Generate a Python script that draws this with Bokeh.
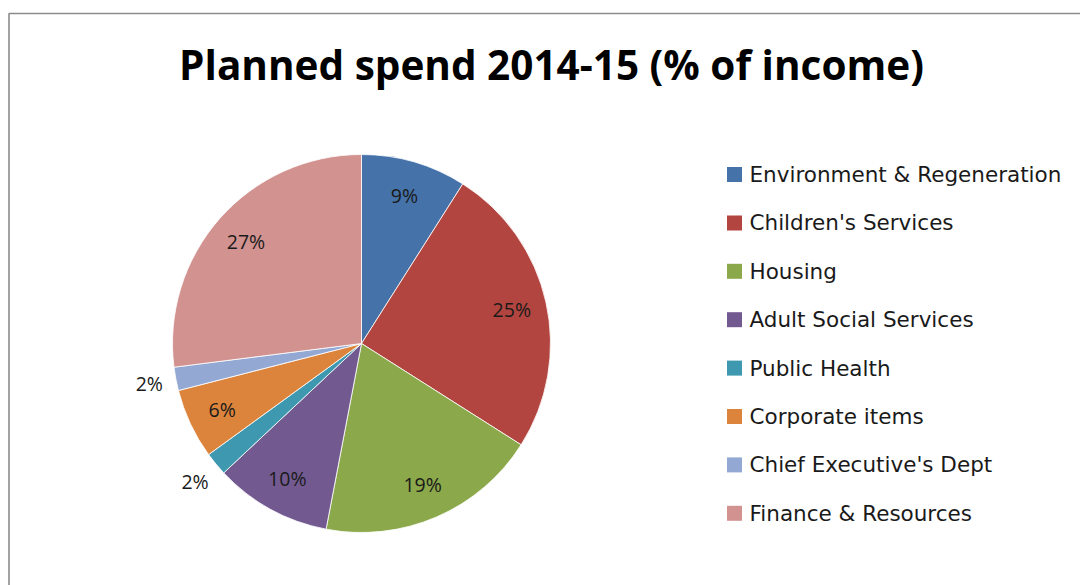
import math

from bokeh.core.properties import value
from bokeh.embed import file_html
from bokeh.models import ColumnDataSource, Range1d
from bokeh.plotting import figure
from bokeh.resources import INLINE

# Planned spend by department, share of income (%)
categories = [
    "Environment & Regeneration",
    "Children's Services",
    "Housing",
    "Adult Social Services",
    "Public Health",
    "Corporate items",
    "Chief Executive's Dept",
    "Finance & Resources",
]
shares = [9, 25, 19, 10, 2, 6, 2, 27]
colors = ["#4572a9", "#b2453f", "#8ba84a", "#725a91", "#3d98b0",
          "#dd843c", "#93a9d4", "#d19290"]
title_text = "Planned spend 2014-15 (% of income)"

W, H = 1080, 585
FONT = "Open Sans"
LEGEND_FONT = "DejaVu Sans"

p = figure(width=W, height=H, x_range=Range1d(0, W), y_range=Range1d(0, H),
           output_backend="svg", toolbar_location=None, min_border=0)
p.axis.visible = False
p.grid.visible = False
p.outline_line_color = None
p.background_fill_color = "white"
p.border_fill_color = "white"

# chart area frame (left and top edges visible)
p.quad(left=[8.5], right=[W + 20], top=[H - 13], bottom=[-20],
       fill_color=None, line_color="#8c8c8c", line_width=1.6)

# title
p.text(x=[551], y=[H - 64], text=[title_text], text_align="center",
       text_baseline="middle", text_font=value(FONT), text_font_style="bold",
       text_font_size="40.5px", text_color="#000000")

# pie
cx, cy, R = 361, H - 343, 189
total = float(sum(shares))
starts, ends, mids = [], [], []
acc = 0.0
for s in shares:
    a0 = math.pi / 2 - 2 * math.pi * acc / total
    acc += s
    a1 = math.pi / 2 - 2 * math.pi * acc / total
    starts.append(a0)
    ends.append(a1)
    mids.append((a0 + a1) / 2)

pie = ColumnDataSource(dict(start=starts, end=ends, color=colors, cat=categories))
p.wedge(x=cx, y=cy, radius=R, start_angle="start", end_angle="end",
        direction="clock", fill_color="color", line_color="white",
        line_width=0.8, source=pie)

# percentage labels: inside for larger slices, just outside for small ones
lx, ly, lt = [], [], []
for s, m in zip(shares, mids):
    r = 154 if s >= 5 else 216
    lx.append(cx + r * math.cos(m))
    ly.append(cy + r * math.sin(m))
    lt.append(f"{s}%")
p.text(x=lx, y=ly, text=lt, text_align="center", text_baseline="middle",
       text_font=value(FONT), text_font_size="19.5px", text_color="#1a1a1a")

# legend
row0, pitch = H - 174, 48.4
ys = [row0 - i * pitch for i in range(len(categories))]
p.rect(x=[734] * len(ys), y=ys, width=15, height=15, fill_color=colors,
       line_color=None)
p.text(x=[749] * len(ys), y=ys, text=categories, text_align="left",
       text_baseline="middle", text_font=value(LEGEND_FONT),
       text_font_size="21.5px", text_color="#1a1a1a")

open("out.html", "w").write(file_html(p, INLINE))
